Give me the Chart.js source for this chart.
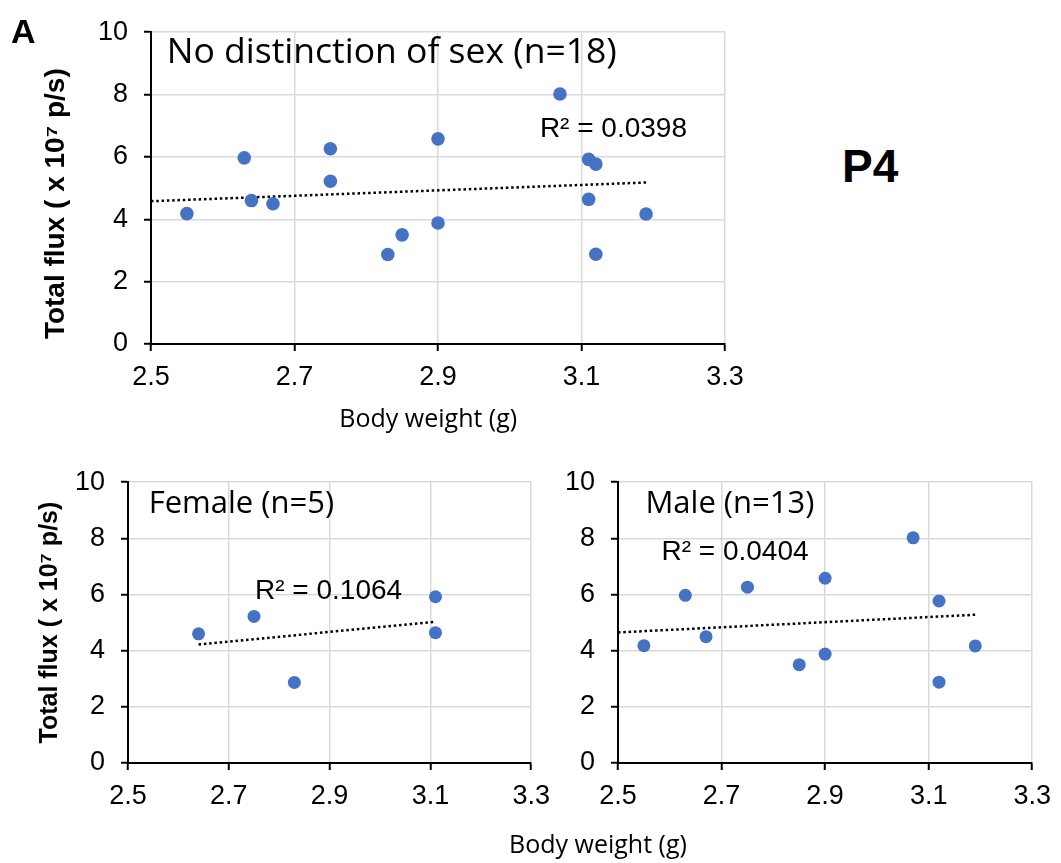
<!DOCTYPE html>
<html>
<head>
<meta charset="utf-8">
<script src="https://cdn.jsdelivr.net/npm/chart.js@4.4.1/dist/chart.umd.min.js"></script>
<style>
  body { margin: 0; background: #fff; }
  #page { position: relative; width: 1061px; height: 863px; overflow: hidden; background: #fff; }
  .box { position: absolute; }
  .lbl { position: absolute; color: #000; white-space: nowrap; }
  #panelA { left: 11px; top: 12px; font: bold 34px "Liberation Sans", Arial, sans-serif; }
  #p4 { left: 842px; top: 139px; font: bold 46px "Liberation Sans", Arial, sans-serif; }
  #bw { left: 598px; top: 843px; transform: translate(-50%, -50%); font: 25px "Open Sans", Lato, sans-serif; }
</style>
</head>
<body>
<div id="page">
  <div class="box" style="left:0;top:0;width:760px;height:440px"><canvas id="allChart"></canvas></div>
  <div class="box" style="left:0;top:450px;width:560px;height:413px"><canvas id="femaleChart"></canvas></div>
  <div class="box" style="left:560px;top:450px;width:501px;height:413px"><canvas id="maleChart"></canvas></div>
  <div class="lbl" id="panelA">A</div>
  <div class="lbl" id="p4">P4</div>
  <div class="lbl" id="bw">Body weight (g)</div>
</div>
<script>
// P4 body weight vs total flux
const xTicks = [2.5, 2.7, 2.9, 3.1, 3.3];
const yTicks = [0, 2, 4, 6, 8, 10];

const femaleWeight = [2.64, 2.75, 2.83, 3.11, 3.11];
const femaleFlux = [4.6, 5.22, 2.87, 5.92, 4.64];

const maleWeight = [2.55, 2.63, 2.67, 2.75, 2.85, 2.9, 2.9, 3.07, 3.12, 3.12, 3.19];
const maleFlux = [4.18, 5.97, 4.5, 6.26, 3.5, 6.58, 3.88, 8.02, 5.77, 2.88, 4.17];

// trendline end points as drawn
const allTrendX = [2.5, 3.19];
const allTrendY = [4.58, 5.18];
const femaleTrendX = [2.64, 3.11];
const femaleTrendY = [4.22, 5.03];
const maleTrendX = [2.5, 3.19];
const maleTrendY = [4.65, 5.28];

const allR2 = 'R² = 0.0398';
const femaleR2 = 'R² = 0.1064';
const maleR2 = 'R² = 0.0404';

const yTitle = 'Total flux ( x 10⁷ p/s)';
const xTitle = 'Body weight (g)';

const dotColor = '#4472C4';
const gridColor = '#d9d9d9';
const tickFont = { family: '"Liberation Sans", Arial, sans-serif', size: 27 };

function toPoints(xs, ys) {
  return xs.map((v, i) => ({ x: v, y: ys[i] }));
}

// draws in-plot labels at data positions
const panelText = {
  id: 'panelText',
  afterDatasetsDraw(chart, args, opts) {
    const { ctx, scales } = chart;
    (opts.items || []).forEach((it) => {
      ctx.save();
      ctx.font = it.font;
      ctx.fillStyle = '#000';
      ctx.textBaseline = 'middle';
      ctx.textAlign = 'left';
      ctx.fillText(it.text, scales.x.getPixelForValue(it.x), scales.y.getPixelForValue(it.y));
      ctx.restore();
    });
  }
};

function makePanel(id, cfg) {
  const ctx = document.getElementById(id).getContext('2d');
  return new Chart(ctx, {
    type: 'scatter',
    data: {
      datasets: [
        {
          label: 'points',
          data: cfg.points,
          backgroundColor: dotColor,
          borderWidth: 0,
          pointRadius: cfg.radius,
        },
        {
          label: 'trend',
          type: 'line',
          data: cfg.trend,
          borderColor: '#000',
          borderWidth: 2.5,
          borderDash: [2.5, 2.8],
          pointRadius: 0,
          fill: false,
          tension: 0,
        }
      ]
    },
    plugins: [panelText],
    options: {
      responsive: true,
      maintainAspectRatio: false,
      animation: false,
      events: [],
      layout: { padding: cfg.padding },
      plugins: {
        legend: { display: false },
        tooltip: { enabled: false },
        panelText: { items: cfg.texts },
      },
      scales: {
        x: {
          type: 'linear',
          min: 2.5, max: 3.3,
          afterBuildTicks: (s) => { s.ticks = xTicks.map((v) => ({ value: v })); },
          afterFit: (s) => { s.height = cfg.xHeight; },
          ticks: { font: tickFont, color: '#000', padding: 10, maxRotation: 0, callback: (v) => v.toFixed(1) },
          grid: { color: gridColor, lineWidth: 1.5, tickColor: '#000', tickLength: 7, tickWidth: 2 },
          border: { color: '#000', width: 2 },
          title: cfg.xTitle || { display: false },
        },
        y: {
          min: 0, max: 10,
          afterBuildTicks: (s) => { s.ticks = yTicks.map((v) => ({ value: v })); },
          afterFit: (s) => { s.width = cfg.yWidth; },
          ticks: { font: tickFont, color: '#000', padding: 16 },
          grid: { color: gridColor, lineWidth: 1.5, tickColor: '#000', tickLength: 7, tickWidth: 2 },
          border: { color: '#000', width: 2 },
          title: {
            display: cfg.yTitleSize > 0,
            text: yTitle + (cfg.yTitleTail || ''),
            color: '#000',
            font: { family: '"Liberation Sans", Arial, sans-serif', size: cfg.yTitleSize || 12, weight: 'bold', lineHeight: 1 },
            padding: { top: cfg.yTitlePad, bottom: 0 },
          },
        }
      }
    }
  });
}

makePanel('allChart', {
  points: toPoints(femaleWeight.concat(maleWeight), femaleFlux.concat(maleFlux)),
  trend: toPoints(allTrendX, allTrendY),
  radius: 6.8,
  padding: { top: 21, right: 35, left: 0, bottom: 0 },
  xHeight: 96,
  yWidth: 151,
  yTitleSize: 28,
  yTitlePad: 42,
  yTitleTail: '    ',
  xTitle: {
    display: true,
    text: xTitle + '   ',
    color: '#000',
    font: { family: '"Open Sans", Lato, sans-serif', size: 25, lineHeight: 1 },
    padding: { top: 0, bottom: 8 },
  },
  texts: [
    { text: 'No distinction of sex (n=18)', x: 2.522, y: 9.35, font: '35.5px "Open Sans", Lato, sans-serif' },
    { text: allR2, x: 3.042, y: 6.9, font: '28px "Liberation Sans", Arial, sans-serif' },
  ],
});

makePanel('femaleChart', {
  points: toPoints(femaleWeight, femaleFlux),
  trend: toPoints(femaleTrendX, femaleTrendY),
  radius: 6.5,
  padding: { top: 24, right: 20, left: 0, bottom: 0 },
  xHeight: 100,
  yWidth: 128,
  yTitleSize: 25,
  yTitlePad: 38,
  texts: [
    { text: 'Female (n=5)', x: 2.541, y: 9.2, font: '31px "Open Sans", Lato, sans-serif' },
    { text: femaleR2, x: 2.752, y: 6.1, font: '28px "Liberation Sans", Arial, sans-serif' },
  ],
});

makePanel('maleChart', {
  points: toPoints(maleWeight, maleFlux),
  trend: toPoints(maleTrendX, maleTrendY),
  radius: 6.5,
  padding: { top: 30, right: 27, left: 0, bottom: 0 },
  xHeight: 100,
  yWidth: 58,
  yTitleSize: 0,
  yTitlePad: 0,
  texts: [
    { text: 'Male (n=13)', x: 2.553, y: 9.23, font: '31px "Open Sans", Lato, sans-serif' },
    { text: maleR2, x: 2.584, y: 7.5, font: '28px "Liberation Sans", Arial, sans-serif' },
  ],
});
</script>
</body>
</html>
